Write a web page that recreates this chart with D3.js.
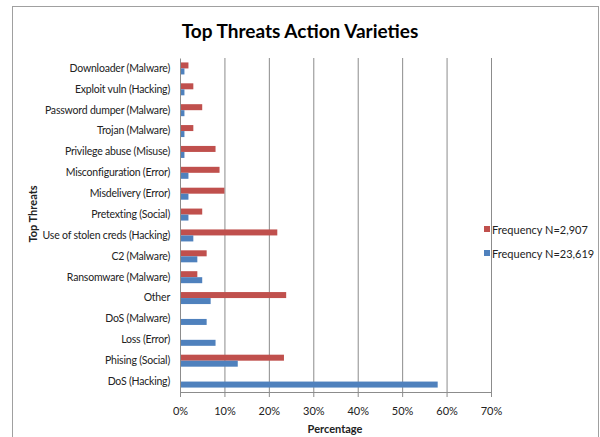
<!DOCTYPE html>
<html><head><meta charset="utf-8">
<script src="https://cdn.jsdelivr.net/npm/d3@7"></script>
<style>body{margin:0;background:#fff;} text{font-family:Lato, "Open Sans", sans-serif;}</style>
</head><body>
<svg id="c" width="600" height="437"></svg>
<script>
const categories = ["Downloader (Malware)","Exploit vuln (Hacking)","Password dumper (Malware)","Trojan (Malware)","Privilege abuse (Misuse)","Misconfiguration (Error)","Misdelivery (Error)","Pretexting (Social)","Use of stolen creds (Hacking)","C2 (Malware)","Ransomware  (Malware)","Other","DoS (Malware)","Loss (Error)","Phising (Social)","DoS (Hacking)"];
const seriesNames = ["Frequency N=2,907","Frequency N=23,619"];
const small = [1.9,3.0,5.0,3.0,8.0,8.9,10.0,5.0,21.9,6.0,3.9,23.9,0,0,23.4,0];
const large = [1.0,1.0,1.0,1.0,1.0,1.9,1.9,1.9,3.0,3.9,5.0,6.9,6.0,8.0,13.0,58.0];
const ticks = [0,10,20,30,40,50,60,70];
const colors = ["#C0504D","#4F81BD"];

const svg = d3.select("#c");
svg.append("rect").attr("x",12.5).attr("y",6.5).attr("width",586).attr("height",440)
  .attr("fill","#fff").attr("stroke","#a0a0a0").attr("stroke-width",1);

const x = d3.scaleLinear().domain([0,70]).range([180,491]);
const y = d3.scaleBand().domain(categories).range([58,392]).paddingInner(0).paddingOuter(0);

// gridlines
svg.append("g").selectAll("line").data(ticks.slice(1)).join("line")
  .attr("x1",d=>x(d)+0.5).attr("x2",d=>x(d)+0.5).attr("y1",58).attr("y2",392)
  .attr("stroke","#8c8c8c").attr("stroke-width",1);

// bars
const data = categories.map((c,i)=>({c, v:[small[i], large[i]]}));
const g = svg.append("g");
data.forEach(d=>{
  d.v.forEach((v,k)=>{
    if(v<=0) return;
    const bc = y(d.c)+y.bandwidth()/2;
    const h = 6;
    g.append("rect").attr("x",x(0)).attr("y", k===0 ? bc-h : bc)
      .attr("width",x(v)-x(0)).attr("height",h).attr("fill",colors[k]);
  });
});

// x axis
const xa = svg.append("g").attr("transform","translate(0,392)")
  .call(d3.axisBottom(x).tickValues(ticks).tickFormat(d=>d+"%").tickSizeInner(5).tickSizeOuter(0).tickPadding(10));
xa.select(".domain").attr("stroke","#8c8c8c");
xa.selectAll(".tick line").attr("stroke","#8c8c8c");
xa.selectAll("text").attr("font-size",11).attr("fill","#222").style("font-family","Lato, sans-serif");

// y axis
const ya = svg.append("g").attr("transform","translate(180,0)")
  .call(d3.axisLeft(y).tickSize(0).tickPadding(10));
ya.select(".domain").attr("stroke","#8c8c8c");
ya.selectAll("text").attr("font-size",10.5).attr("letter-spacing","-0.2px").attr("fill","#222").style("font-family","Lato, sans-serif");

// titles
svg.append("text").attr("x",300).attr("y",38).attr("text-anchor","middle")
  .attr("font-size",19).attr("font-weight","bold").attr("fill","#000").text("Top Threats Action Varieties");
svg.append("text").attr("x",335).attr("y",433).attr("text-anchor","middle")
  .attr("font-size",11).attr("font-weight","bold").attr("fill","#222").text("Percentage");
svg.append("text").attr("transform","translate(37,214) rotate(-90)").attr("text-anchor","middle")
  .attr("font-size",11).attr("font-weight","bold").attr("fill","#222").text("Top Threats");

// legend
const lg = svg.append("g");
seriesNames.forEach((s,i)=>{
  const yy = 230 + i*24;
  lg.append("rect").attr("x",484).attr("y",yy-4).attr("width",6).attr("height",6).attr("fill",colors[i]);
  lg.append("text").attr("x",492).attr("y",yy+3.5).attr("font-size",11).attr("fill","#222").text(s);
});
</script>
</body></html>
